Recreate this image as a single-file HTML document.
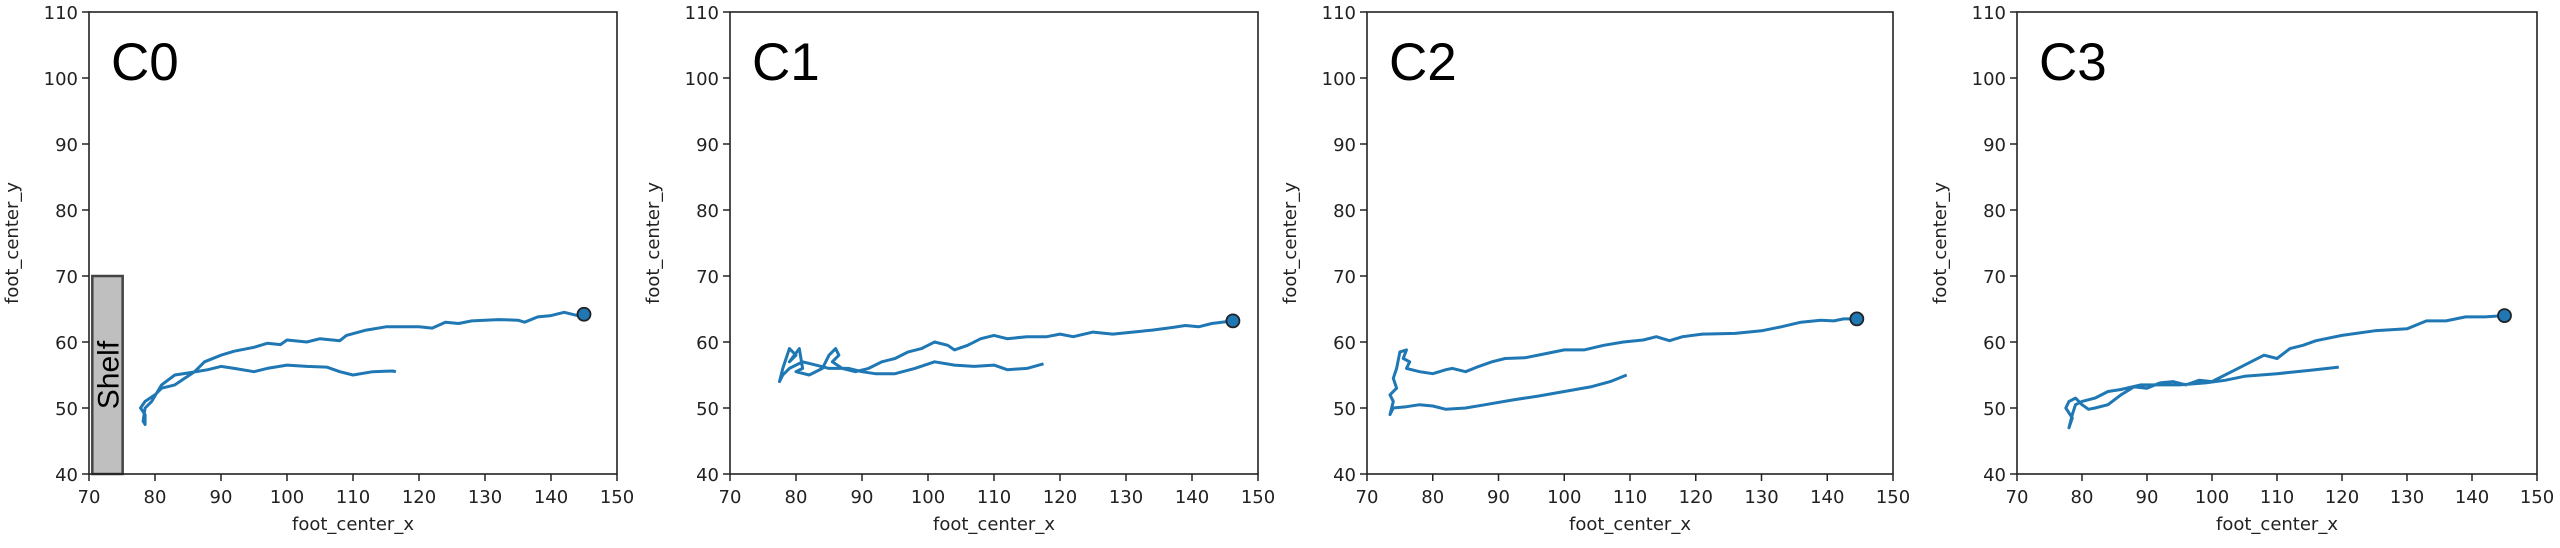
<!DOCTYPE html>
<html><head><meta charset="utf-8"><style>
html,body{margin:0;padding:0;background:#fff;}
svg{display:block;}
text{font-family:"DejaVu Sans","Liberation Sans",sans-serif;fill:#222;}
</style></head><body>
<svg id="s" width="2560" height="548" xmlns="http://www.w3.org/2000/svg"></svg>
<script>
const panels=[
 {L:89,R:617,name:"C0",shelf:true,m:[145,64.2],d:[[116.5,55.5],[116,55.6],[113,55.5],[110,55],[108,55.5],[106,56.2],[103,56.3],[100,56.5],[97,56],[95,55.5],[92,56],[90,56.3],[88,55.8],[85,55.3],[83,55],[81,53.5],[79.5,51],[78.5,50],[78.2,48],[78.5,47.5],[78.5,49],[77.8,50],[78.5,51],[80,52],[81,53],[83,53.5],[84.5,54.5],[86,55.5],[87.5,57],[90,58],[92,58.6],[95,59.2],[97,59.8],[99,59.6],[100,60.3],[103,60],[105,60.5],[108,60.2],[109,61],[112,61.8],[115,62.3],[118,62.3],[120,62.3],[122,62.1],[124,63],[126,62.8],[128,63.2],[132,63.4],[135,63.3],[136,63],[138,63.8],[140,64],[142,64.5],[144,64],[145,64.2]]},
 {L:730,R:1258,name:"C1",m:[146.2,63.2],d:[[117.5,56.7],[115,56],[112,55.8],[110,56.5],[107,56.3],[104,56.5],[101,57],[98,56],[95,55.2],[92,55.2],[90,55.5],[88,56],[85,56],[83,56.5],[81,57],[79,56],[78,55],[77.5,54],[78,56],[79,59],[80,58],[79,57],[80.5,59],[81,56],[80,55.5],[82,55],[84,56],[85,58],[86,59],[86.5,58],[85.5,57],[87,56],[89,55.5],[91,56],[93,57],[95,57.5],[97,58.5],[99,59],[100,59.5],[101,60],[103,59.5],[104,58.8],[106,59.5],[108,60.5],[110,61],[112,60.5],[115,60.8],[118,60.8],[120,61.2],[122,60.8],[125,61.5],[128,61.2],[131,61.5],[134,61.8],[137,62.2],[139,62.5],[141,62.3],[143,62.8],[146.2,63.2]]},
 {L:1367,R:1893,name:"C2",m:[144.5,63.5],d:[[109.5,55],[107,54],[104,53.2],[100,52.5],[96,51.8],[92,51.2],[88,50.5],[85,50],[82,49.8],[80,50.3],[78,50.5],[76,50.2],[74,50],[73.5,49],[74,51],[73.5,52],[74.5,53],[74,54.5],[74.5,56],[75,58.5],[76,58.8],[75.5,57.5],[76.5,57],[76,56],[78,55.5],[80,55.2],[82,55.8],[83,56],[85,55.5],[87,56.3],[89,57],[91,57.5],[94,57.6],[97,58.2],[100,58.8],[103,58.8],[106,59.5],[109,60],[112,60.3],[114,60.8],[116,60.2],[118,60.8],[121,61.2],[126,61.3],[130,61.7],[133,62.3],[136,63],[139,63.3],[141,63.2],[142.5,63.5],[144.5,63.5]]},
 {L:2017,R:2537,name:"C3",m:[145,64],d:[[119.5,56.2],[115,55.7],[110,55.2],[105,54.8],[102,54.2],[99,53.8],[95,53.5],[92,53.5],[89,53.5],[86,52.8],[84,52.5],[82,51.5],[80,51],[79,50.5],[78.5,49],[78,47],[78.5,48.5],[77.5,50],[78,51],[79,51.5],[80,50.5],[81,49.8],[82,50],[84,50.5],[86,52],[88,53.2],[90,53],[92,53.8],[94,54],[96,53.5],[98,54.2],[100,54],[102,55],[104,56],[106,57],[108,58],[110,57.5],[112,59],[114,59.5],[116,60.2],[120,61],[125,61.7],[130,62],[133,63.2],[136,63.2],[139,63.8],[142,63.8],[145,64]]}
];
const T=12,B=474;
let h="";
for(const p of panels){
 const sx=(p.R-p.L)/80, sy=(B-T)/70;
 const X=v=>p.L+(v-70)*sx, Y=v=>B-(v-40)*sy;
 if(p.shelf){
  h+=`<rect x="${X(70.5)}" y="${Y(70)}" width="${X(75.1)-X(70.5)}" height="${Y(40)-Y(70)}" fill="#bfbfbf" stroke="#444" stroke-width="2.5"/>`;
  const cx=(X(70.5)+X(75.1))/2, cy=Y(55);
  h+=`<text x="${cx+11}" y="${cy}" transform="rotate(-90 ${cx+11} ${cy})" text-anchor="middle" style="font-family:'Liberation Sans',sans-serif;font-size:30px;fill:#000">Shelf</text>`;
 }
 h+=`<rect x="${p.L}" y="${T}" width="${p.R-p.L}" height="${B-T}" fill="none" stroke="#222" stroke-width="1.6"/>`;
 for(let v=70;v<=150;v+=10){const x=X(v);h+=`<line x1="${x}" y1="${B}" x2="${x}" y2="${B+7}" stroke="#222" stroke-width="1.5"/><text x="${x}" y="${B+29}" text-anchor="middle" font-size="18">${v}</text>`;}
 for(let v=40;v<=110;v+=10){const y=Y(v);h+=`<line x1="${p.L-7}" y1="${y}" x2="${p.L}" y2="${y}" stroke="#222" stroke-width="1.5"/><text x="${p.L-11}" y="${y+7}" text-anchor="end" font-size="18">${v}</text>`;}
 h+=`<text x="${(p.L+p.R)/2}" y="530" text-anchor="middle" font-size="18">foot_center_x</text>`;
 const lx=p.L-71, ly=(T+B)/2;
 h+=`<text x="${lx}" y="${ly}" transform="rotate(-90 ${lx} ${ly})" text-anchor="middle" font-size="18">foot_center_y</text>`;
 h+=`<text x="${p.L+22}" y="80" style="font-family:'Liberation Sans',sans-serif;font-size:53px;fill:#000">${p.name}</text>`;
 h+=`<polyline fill="none" stroke="#1f77b4" stroke-width="3" stroke-linejoin="round" points="${p.d.map(q=>X(q[0]).toFixed(1)+','+Y(q[1]).toFixed(1)).join(' ')}"/>`;
 h+=`<circle cx="${X(p.m[0])}" cy="${Y(p.m[1])}" r="6.5" fill="#1f77b4" stroke="#222" stroke-width="1.8"/>`;
}
document.getElementById('s').innerHTML=h;
</script>
</body></html>
